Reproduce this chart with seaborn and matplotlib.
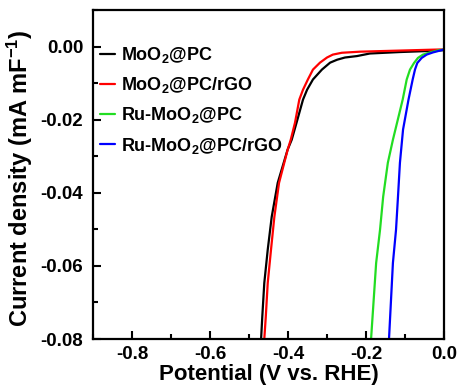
import numpy as np
import pandas as pd
import seaborn as sns
import matplotlib
matplotlib.use("Agg")
import matplotlib.pyplot as plt
from matplotlib.ticker import MultipleLocator, FormatStrFormatter
from matplotlib.lines import Line2D

# ---- data ----
series_names = ["MoO$_2$@PC", "MoO$_2$@PC/rGO", "Ru-MoO$_2$@PC", "Ru-MoO$_2$@PC/rGO"]
series_colors = ["#000000", "#ff0000", "#22dd22", "#0000ff"]

v_moo2_pc = [-0.469, -0.466, -0.4608, -0.452, -0.4418, -0.4264, -0.401, -0.3905, -0.378, -0.3615,
             -0.351, -0.336, -0.313, -0.292, -0.274, -0.254, -0.223, -0.190, -0.113, -0.036, 0.0]
j_moo2_pc = [-0.080, -0.0740, -0.0647, -0.0556, -0.0466, -0.0373, -0.0282, -0.0255, -0.0208, -0.0145,
             -0.0118, -0.0090, -0.0063, -0.0044, -0.0036, -0.0030, -0.0026, -0.0019, -0.0015, -0.0012, -0.0010]

v_moo2_pc_rgo = [-0.4608, -0.457, -0.452, -0.4436, -0.435, -0.423, -0.4008, -0.393, -0.382, -0.371,
                 -0.3615, -0.349, -0.336, -0.318, -0.300, -0.285, -0.262, -0.215, -0.113, -0.010, 0.0]
j_moo2_pc_rgo = [-0.080, -0.0740, -0.0647, -0.0556, -0.0466, -0.0373, -0.0282, -0.0255, -0.0208, -0.0145,
                 -0.0118, -0.0090, -0.0063, -0.0044, -0.0030, -0.0022, -0.0017, -0.0014, -0.0011, -0.0008, -0.0008]

v_ru_pc = [-0.187, -0.174, -0.164, -0.156, -0.144, -0.131, -0.1059, -0.0956, -0.0872,
           -0.0769, -0.0667, -0.0538, -0.0359, -0.0179, 0.0]
j_ru_pc = [-0.080, -0.0592, -0.0501, -0.0411, -0.0318, -0.0255, -0.0145, -0.0090, -0.0063,
           -0.0045, -0.0031, -0.0022, -0.0016, -0.0011, -0.0008]

v_ru_pc_rgo = [-0.141, -0.131, -0.123, -0.118, -0.113, -0.105, -0.091, -0.0803, -0.0744,
               -0.0685, -0.0572, -0.0444, -0.0282, -0.0103, 0.0]
j_ru_pc_rgo = [-0.080, -0.0592, -0.0501, -0.0411, -0.0318, -0.0227, -0.0145, -0.0090, -0.0063,
               -0.0045, -0.0031, -0.0022, -0.0016, -0.0011, -0.0008]

x_ticks = [-0.8, -0.6, -0.4, -0.2, 0.0]
y_ticks = [0.00, -0.02, -0.04, -0.06, -0.08]

frames = []
for name, v, j in zip(series_names,
                      [v_moo2_pc, v_moo2_pc_rgo, v_ru_pc, v_ru_pc_rgo],
                      [j_moo2_pc, j_moo2_pc_rgo, j_ru_pc, j_ru_pc_rgo]):
    frames.append(pd.DataFrame({"Potential": v, "Current": j, "Sample": name}))
df = pd.concat(frames, ignore_index=True)

sns.set_style("ticks")
plt.rcParams["font.family"] = ["Liberation Sans", "DejaVu Sans"]
plt.rcParams["font.weight"] = "bold"
plt.rcParams["mathtext.default"] = "regular"
plt.rcParams["axes.linewidth"] = 1.6
for k in ["text.color", "axes.labelcolor", "xtick.color", "ytick.color", "axes.edgecolor"]:
    plt.rcParams[k] = "black"

fig = plt.figure(figsize=(4.62, 3.92), dpi=100)
ax = fig.add_axes([93/462, 1-339/392, (444-93)/462, (339-10)/392])

sns.lineplot(data=df, x="Potential", y="Current", hue="Sample", hue_order=series_names,
             palette=series_colors, sort=False, estimator=None,
             linewidth=1.6, ax=ax, legend=False)
for line in ax.lines:
    line.set_solid_joinstyle("round")

ax.set_xlim(-0.9, 0.0)
ax.set_ylim(-0.08, 0.01)
ax.set_xticks(x_ticks)
ax.set_yticks(y_ticks)
ax.xaxis.set_minor_locator(MultipleLocator(0.1))
ax.yaxis.set_minor_locator(MultipleLocator(0.01))
ax.yaxis.set_major_formatter(FormatStrFormatter("%.2f"))
ax.xaxis.set_major_formatter(FormatStrFormatter("%.1f"))
ax.tick_params(axis="both", which="major", direction="in", length=6, width=1.5,
               labelsize=13.5)
ax.tick_params(axis="y", which="major", pad=7)
ax.tick_params(axis="x", which="major", pad=5)
ax.tick_params(axis="both", which="minor", direction="in", length=3.5, width=1.5)
ax.tick_params(top=False, right=False, which="both")
for lab in ax.get_xticklabels() + ax.get_yticklabels():
    lab.set_fontweight("bold")

ax.set_xlabel("Potential (V vs. RHE)", fontsize=16, fontweight="bold", labelpad=1)
ax.set_ylabel("Current density (mA mF$^{-1}$)", fontsize=17, fontweight="bold")
ax.yaxis.set_label_coords(-0.165, 0.49)

handles = [Line2D([], [], color=c, lw=1.6) for c in series_colors]
ax.legend(handles, series_names, loc="upper left", bbox_to_anchor=(0.02, 0.893),
          frameon=False, handlelength=0.85, handletextpad=0.3,
          labelspacing=0.56, borderpad=0, borderaxespad=0,
          prop={"weight": "bold", "size": 13})

fig.savefig("out.png", dpi=100)
